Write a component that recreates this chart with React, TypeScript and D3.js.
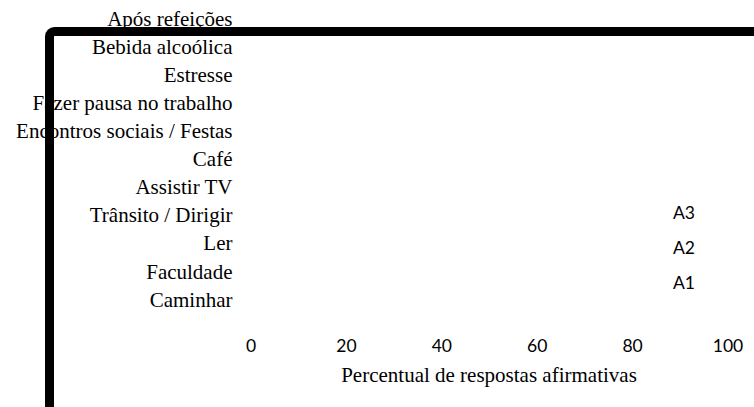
import React from "react";
import * as d3 from "d3";

const categories = [
  "Após refeições",
  "Bebida alcoólica",
  "Estresse",
  "Fazer pausa no trabalho",
  "Encontros sociais / Festas",
  "Café",
  "Assistir TV",
  "Trânsito / Dirigir",
  "Ler",
  "Faculdade",
  "Caminhar",
];
const legendSeries = ["A3", "A2", "A1"];
const xDomain = [0, 100];
const xTitle = "Percentual de respostas afirmativas";

const W = 754;
const H = 407;

export default function App() {
  const x = d3.scaleLinear().domain(xDomain).range([251, 728]);
  const y = d3.scaleBand().domain(categories).range([4.25, 313.35]);
  const ly = d3.scalePoint().domain(legendSeries).range([219, 289]);
  const serif = { fontFamily: "Liberation Serif, Times New Roman, Times, serif", fontSize: "21px" };
  const sans = { fontFamily: "Lato, Open Sans, sans-serif", fontSize: "17.5px" };
  return (
    <svg
      width={W}
      height={H}
      style={{ position: "absolute", left: 0, top: 0, background: "#fff" }}
    >
      <rect x={0} y={0} width={W} height={H} fill="#fff" />
      {categories.map((c) => (
        <text
          key={c}
          x={232.5}
          y={(y(c) as number) + y.bandwidth() / 2}
          dy="0.35em"
          textAnchor="end"
          style={serif}
          fill="#000"
        >
          {c}
        </text>
      ))}
      {x.ticks(5).map((t) => (
        <text
          key={t}
          x={x(t)}
          y={352}
          textAnchor="middle"
          style={sans}
          fill="#000"
        >
          {t}
        </text>
      ))}
      <text x={489} y={382} textAnchor="middle" style={serif} fill="#000">
        {xTitle}
      </text>
      {legendSeries.map((s) => (
        <text key={s} x={673} y={ly(s)} style={sans} fill="#000">
          {s}
        </text>
      ))}
      <rect
        x={49.5}
        y={31.5}
        width={W}
        height={H}
        rx={5}
        fill="none"
        stroke="#000"
        strokeWidth={9}
      />
    </svg>
  );
}
